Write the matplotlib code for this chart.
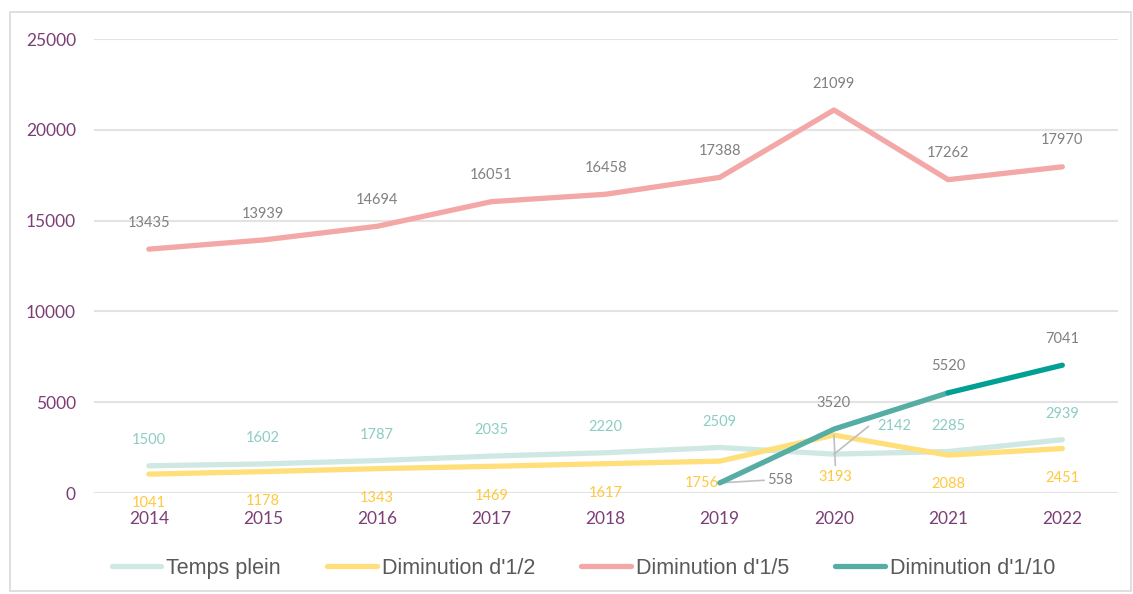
import matplotlib.pyplot as plt
from matplotlib.patches import Rectangle
import numpy as np

years = ["2014", "2015", "2016", "2017", "2018", "2019", "2020", "2021", "2022"]
temps_plein = [1500, 1602, 1787, 2035, 2220, 2509, 2142, 2285, 2939]
demi = [1041, 1178, 1343, 1469, 1617, 1756, 3193, 2088, 2451]
cinquieme = [13435, 13939, 14694, 16051, 16458, 17388, 21099, 17262, 17970]
dixieme = [np.nan, np.nan, np.nan, np.nan, np.nan, 558, 3520, 5520, 7041]

c_tp = "#cfe8e4"
c_demi = "#ffdf7a"
c_cinq = "#f4a7a7"
c_dix = "#55ada4"
c_dix_last = "#00a094"
purple = "#7b3f76"
grey = "#808080"

plt.rcParams["font.family"] = ["Lato", "DejaVu Sans"]

fig = plt.figure(figsize=(11.33, 5.94), dpi=100)
ax = fig.add_axes([0.083, 0.170, 0.904, 0.764])

x = np.arange(len(years))
lw = 3.8
ax.plot(x, temps_plein, color=c_tp, lw=lw, solid_capstyle="round", label="Temps plein", zorder=2)
ax.plot(x, demi, color=c_demi, lw=lw, solid_capstyle="round", label="Diminution d'1/2", zorder=3)
ax.plot(x, cinquieme, color=c_cinq, lw=lw, solid_capstyle="round", label="Diminution d'1/5", zorder=4)
ax.plot(x[:-1], dixieme[:-1], color=c_dix, lw=lw, solid_capstyle="round", label="Diminution d'1/10", zorder=5)
ax.plot(x[-2:], dixieme[-2:], color=c_dix_last, lw=lw, solid_capstyle="round", zorder=5)

fs = 10.5
def lab(i, v, dy, color, dx=0, **kw):
    ax.annotate(str(v), (x[i], v), xytext=(dx, dy), textcoords="offset points",
                ha="center", va="center", fontsize=fs, color=color, **kw)

for i, v in enumerate(cinquieme):
    lab(i, v, 19, grey)
for i, v in enumerate(temps_plein):
    if i == 6:
        continue
    lab(i, v, 18.5, "#8ccdc3")
for i, v in enumerate(demi):
    if i in (5, 6):
        continue
    lab(i, v, -21, "#ffc83d")
for i in (6, 7, 8):
    lab(i, dixieme[i], 19, grey)

lead = dict(arrowstyle="-", color="#bfbfbf", lw=1.2, shrinkA=0, shrinkB=0)
lab(5, demi[5], -16, "#ffc83d", dx=-13)
ax.annotate("558", (x[5], dixieme[5]), xytext=(34, 2), textcoords="offset points",
            ha="left", va="center", fontsize=fs, color=grey,
            arrowprops=dict(lead, relpos=(0, 0.5)))
ax.annotate("2142", (x[6], temps_plein[6]), xytext=(31, 20), textcoords="offset points",
            ha="left", va="center", fontsize=fs, color="#8ccdc3",
            arrowprops=dict(lead, relpos=(-0.25, 0.5)))
ax.annotate("3193", (x[6], demi[6]), xytext=(1, -30), textcoords="offset points",
            ha="center", va="center", fontsize=fs, color="#ffc83d",
            arrowprops=dict(lead, relpos=(0.5, 1.3)))

ax.set_xlim(-0.48, 8.49)
ax.set_ylim(0, 25000)
ax.set_yticks([0, 5000, 10000, 15000, 20000, 25000])
ax.set_xticks(x)
ax.set_xticklabels(years)
ax.tick_params(axis="both", length=0, labelsize=12.5, labelcolor=purple)
ax.tick_params(axis="x", pad=13)
ax.tick_params(axis="y", pad=13)
ax.grid(axis="y", color="#e3e3e3", lw=1.5)
ax.set_axisbelow(True)
for s in ax.spines.values():
    s.set_visible(False)

leg = ax.legend(loc="upper center", bbox_to_anchor=(0.478, -0.1), ncol=4, frameon=False,
                prop={"family": "Liberation Sans", "size": 15.5}, handlelength=2.3,
                handletextpad=0.23, columnspacing=2.15)
for t in leg.get_texts():
    t.set_color("#595959")

fig.patches.append(Rectangle((10 / 1133, 1 - 591 / 594), 1121 / 1133, 579 / 594,
                             transform=fig.transFigure, fill=False, edgecolor="#d9d9d9", lw=1.2))

fig.savefig("out.png", dpi=100)
